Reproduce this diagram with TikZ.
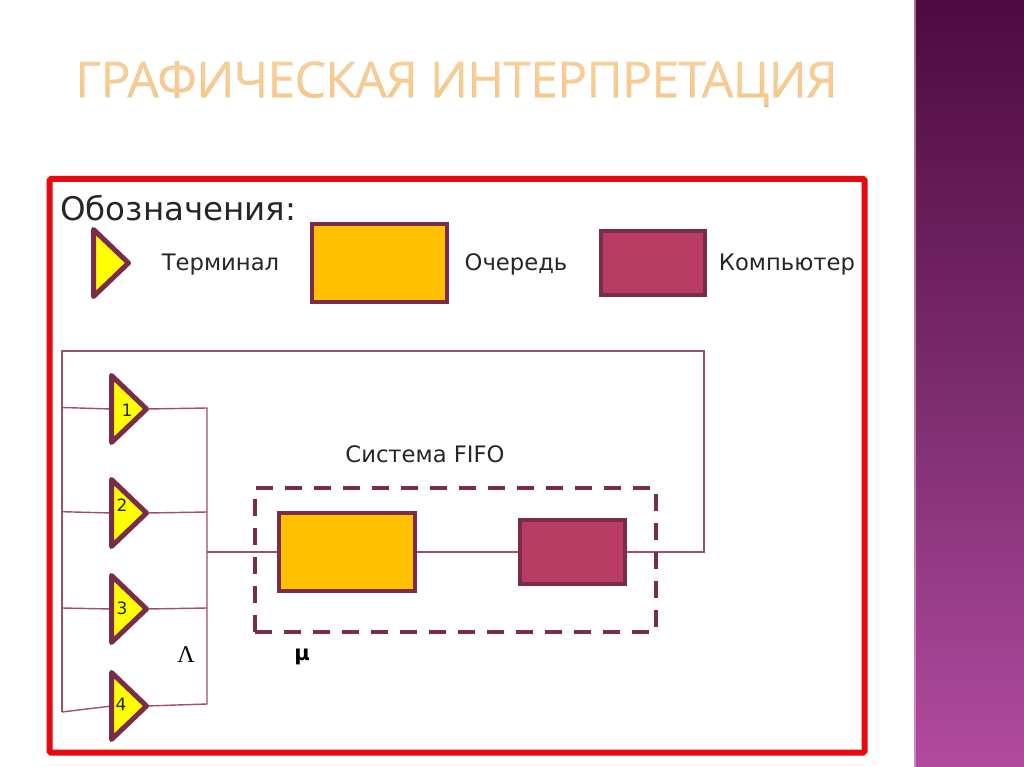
\documentclass[tikz,border=0pt]{standalone}
\usepackage{fontspec}
\setmainfont{DejaVu Sans}
\newfontfamily\titlefont[LetterSpace=-1.6,FakeBold=0.03]{Open Sans}
\newfontfamily\serifface{Liberation Serif}
\usetikzlibrary{shapes.geometric,backgrounds,fadings}
\definecolor{wire}{HTML}{9C4F72}
\definecolor{edge}{HTML}{7A2C4C}
\definecolor{qfill}{HTML}{FFC000}
\definecolor{cfill}{HTML}{B83C64}
\definecolor{tfill}{HTML}{FFFF00}
\definecolor{frame}{HTML}{E8090F}
\definecolor{titleink}{HTML}{F5A840}
\tikzfading[name=titlefade,top color=transparent!55,middle color=transparent!100,bottom color=transparent!65]
\tikzset{
  wireline/.style={draw=wire,line width=1.4pt},
  queuebox/.style={draw=edge,fill=qfill,line width=3.8pt,rectangle,inner sep=0pt,outer sep=0pt,anchor=north west},
  compbox/.style={draw=edge,fill=cfill,line width=3.8pt,rectangle,inner sep=0pt,outer sep=0pt,anchor=north west},
  termtri/.style={draw=edge,fill=tfill,line width=5pt,line join=round,isosceles triangle,
    isosceles triangle stretches,inner sep=0pt,outer sep=0pt,minimum width=67pt,minimum height=35pt},
  txt/.style={font=\fontsize{22.7}{24}\selectfont,text=black!85,inner sep=0pt,anchor=base},
  num/.style={font=\fontsize{17}{18}\selectfont,text=black!85,inner sep=0pt},
}
\begin{document}
\begin{tikzpicture}[x=1pt,y=-1pt]
\useasboundingbox (0,0) rectangle (1024,767);
% title
\node[inner sep=0pt] (title) at (456.5,84) {\textcolor{titleink}{\special{pdf:code 0.60 0.47 0.42 RG}\titlefont\fontsize{50}{54}\selectfont ГРАФИЧЕСКАЯ ИНТЕРПРЕТАЦИЯ}};
\shade[white,top color=white,bottom color=white,path fading=titlefade] (70,62) rectangle (845,106);
% frame
\draw[frame,line width=6pt,rounded corners=1.5pt] (49.5,179) rectangle (864.5,752.5);
% legend
\node[txt,anchor=west,font=\fontsize{32.5}{34}\selectfont] (legend) at (60,208) {Обозначения:};
\node[termtri,anchor=apex] (legtri) at (128.5,263) {};
\node[txt] (legtrit) at (220.5,270) {Терминал};
\node[queuebox,minimum width=135pt,minimum height=78pt] (legq) at (312,224) {};
\node[txt] (legqt) at (516,270) {Очередь};
\node[compbox,minimum width=104pt,minimum height=64pt] (legc) at (601,231) {};
\node[txt] (legct) at (787,270) {Компьютер};
% junctions
\coordinate (tl) at (62,351);
\coordinate (tr) at (704,351);
\coordinate (br) at (704,552);
\coordinate (bl) at (62,712);
\coordinate (busT) at (207,408);
\coordinate (busB) at (207,704);
\coordinate (busM) at (207,552);
\coordinate (bus2) at (207,512);
\coordinate (bus3) at (207,608);
\coordinate (tap1) at (62,407.5);
\coordinate (tap2) at (62,511.7);
\coordinate (tap3) at (62,608);
% terminals
\node[termtri,anchor=apex] (t1) at (146.5,409) {};
\node[termtri,anchor=apex] (t2) at (146.5,513) {};
\node[termtri,anchor=apex] (t3) at (146.5,609) {};
\node[termtri,anchor=apex] (t4) at (146.5,706) {};
\node[num] (n1) at (127,410) {1};
\node[num] (n2) at (122,505) {2};
\node[num] (n3) at (122,608) {3};
\node[num] (n4) at (121,704) {4};
% queue and computer
\node[queuebox,minimum width=136pt,minimum height=78pt] (q) at (279,513) {};
\node[compbox,minimum width=105pt,minimum height=64pt] (c) at (520,520) {};
% dashed box
\node[draw=edge,line width=4pt,dash pattern=on 17pt off 12pt,rectangle,inner sep=0pt,outer sep=0pt,anchor=north west,
  minimum width=401pt,minimum height=144pt] (sys) at (255,488) {};
\node[txt] (syst) at (425,462) {Система FIFO};
\node[inner sep=0pt,font=\serifface\fontsize{24}{26}\selectfont] (lam) at (186,655) {Λ};
\node[inner sep=0pt,font=\bfseries\fontsize{21}{22}\selectfont] (mu) at (302,657) {μ};
% wires and side panel, beneath everything
\begin{scope}[on background layer]
\shade[top color={rgb,255:red,78;green,10;blue,64},bottom color={rgb,255:red,178;green,74;blue,160},
  middle color={rgb,255:red,122;green,44;blue,108}] (914,0) rectangle (1024,767);
\fill[white!70!purple,opacity=.6] (914,0) rectangle (916,767);
\draw[wireline] (c.east) -- (br) -- (tr) -- (tl) -- (bl);
\draw[wireline] (bl) -- (t4.lower side);
\draw[wireline] (tap1) -- (t1.lower side);
\draw[wireline] (tap2) -- (t2.lower side);
\draw[wireline] (tap3) -- (t3.lower side);
\draw[wireline] (t1.apex) -- (busT) -- (busB) -- (t4.apex);
\draw[wireline] (t2.apex) -- (bus2);
\draw[wireline] (t3.apex) -- (bus3);
\draw[wireline] (busM) -- (q.west);
\draw[wireline] (q.east) -- (c.west);
\end{scope}
\end{tikzpicture}
\end{document}
